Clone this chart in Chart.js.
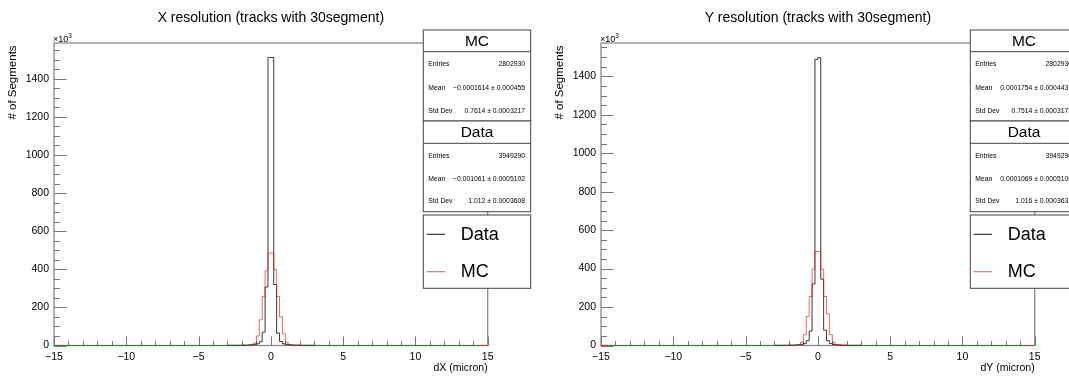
<!DOCTYPE html>
<html>
<head>
<meta charset="utf-8">
<script src="https://cdn.jsdelivr.net/npm/chart.js@4.4.1/dist/chart.umd.min.js"></script>
<style>
    html, body { margin: 0; padding: 0; background: #fff; overflow: hidden; }
    #wrap { position: relative; width: 1069px; height: 376px; }
    .pad { position: absolute; top: 0; height: 376px; }
    #padX { left: 0; width: 534px; }
    #padY { left: 547px; width: 522px; }
</style>
</head>
<body>
<div id="wrap">
    <div class="pad" id="padX"><canvas id="resX"></canvas></div>
    <div class="pad" id="padY"><canvas id="resY"></canvas></div>
</div>
<script>
// ================================================
// SEGMENT RESOLUTION HISTOGRAMS (dX / dY)
// counts are in units of 10^3
// ================================================

const BIN_WIDTH = 0.2;
const X_MIN = -15;
const X_MAX = 15;
const xTickValues = [-15, -10, -5, 0, 5, 10, 15];
const yTickValues = [0, 200, 400, 600, 800, 1000, 1200, 1400];

// dX
const dxYMax = 1588;
const dxMcStart = -1.6;
const dxMcCounts = [1, 3, 12, 50, 135, 257, 392, 485, 485, 400, 257, 150, 62, 18, 4, 1];
const dxDataStart = -3.0;
const dxDataCounts = [1, 1, 1, 1, 1, 2, 2, 3, 4, 6, 9, 20, 70, 307, 1512,
                      1512, 320, 65, 21, 9, 6, 4, 3, 2, 2, 1, 1, 1, 1, 1];
const dxStatsMC = [['Entries', '2802930'], ['Mean', '\u22120.0001614 \u00b1 0.000455'], ['Std Dev', '0.7614 \u00b1 0.0003217']];
const dxStatsData = [['Entries', '3949290'], ['Mean', '\u22120.001061 \u00b1 0.0005102'], ['Std Dev', '1.012 \u00b1 0.0003608']];

// dY
const dyYMax = 1573;
const dyMcStart = -1.6;
const dyMcCounts = [1, 4, 16, 56, 151, 255, 397, 489, 489, 397, 255, 165, 56, 16, 4, 1];
const dyDataStart = -3.0;
const dyDataCounts = [1, 1, 1, 1, 1, 2, 2, 3, 4, 6, 10, 25, 75, 320, 1488,
                      1497, 345, 80, 25, 10, 6, 4, 3, 2, 2, 1, 1, 1, 1, 1];
const dyStatsMC = [['Entries', '2802930'], ['Mean', '0.0001754 \u00b1 0.0004437'], ['Std Dev', '0.7514 \u00b1 0.0003173']];
const dyStatsData = [['Entries', '3949290'], ['Mean', '0.0001069 \u00b1 0.0005108'], ['Std Dev', '1.016 \u00b1 0.0003632']];

const FONT = 'Liberation Sans, Arial, Helvetica, sans-serif';
const BLACK_LINE = 'rgba(0, 0, 0, 0.78)';
const RED_LINE = 'rgba(255, 0, 0, 0.62)';

// Build step outline points: one point per bin low edge, closing at 0
function histPoints(start, counts, padToRange) {
    const pts = [];
    if (padToRange) pts.push({ x: X_MIN, y: 0 });
    counts.forEach((c, i) => pts.push({ x: start + i * BIN_WIDTH, y: c }));
    pts.push({ x: start + counts.length * BIN_WIDTH, y: 0 });
    if (padToRange) pts.push({ x: X_MAX, y: 0 });
    return pts;
}

// Frame, inside ticks, titles, stat boxes and legend
function makePanelPlugin(panel) {
    const BOX_L = 423.3, BOX_R = 530.7;

    function text(ctx, str, x, y, size, align, base) {
        ctx.font = size + 'px ' + FONT;
        ctx.textAlign = align || 'left';
        ctx.textBaseline = base || 'middle';
        ctx.fillStyle = '#000';
        ctx.fillText(str, x, y);
    }

    function statBox(ctx, top, titleBottom, bottom, name, rows) {
        ctx.fillStyle = '#fff';
        ctx.fillRect(BOX_L, top, BOX_R - BOX_L, bottom - top);
        ctx.strokeStyle = '#444';
        ctx.lineWidth = 1;
        ctx.strokeRect(BOX_L, top, BOX_R - BOX_L, bottom - top);
        ctx.beginPath();
        ctx.moveTo(BOX_L, titleBottom);
        ctx.lineTo(BOX_R, titleBottom);
        ctx.stroke();
        text(ctx, name, (BOX_L + BOX_R) / 2, (top + titleBottom) / 2 + 1, 15.5, 'center');
        const rowH = (bottom - titleBottom) / 3;
        rows.forEach((r, k) => {
            const yy = titleBottom + (k + 0.5) * rowH + 1.3;
            text(ctx, r[0], 428.3, yy, 6.8, 'left');
            text(ctx, r[1], 525, yy, 6.8, 'right');
        });
    }

    return {
        id: 'rootPanel',
        beforeDatasetsDraw(chart) {
            const { ctx, chartArea: a, scales: { x, y } } = chart;
            ctx.save();
            ctx.strokeStyle = '#888';
            ctx.lineWidth = 1.3;
            ctx.strokeRect(a.left, a.top, a.right - a.left, a.bottom - a.top);

            // y ticks point into the frame
            ctx.strokeStyle = '#777';
            ctx.lineWidth = 1;
            ctx.beginPath();
            for (let v = 0; v <= y.max; v += 50) {
                const py = Math.round(y.getPixelForValue(v)) + 0.5;
                const len = v % 200 === 0 ? 12.7 : 6;
                ctx.moveTo(a.left, py);
                ctx.lineTo(a.left + len, py);
            }
            // x ticks point upwards
            for (let v = X_MIN; v <= X_MAX; v += 1) {
                const px = Math.round(x.getPixelForValue(v)) + 0.5;
                const len = v % 5 === 0 ? 9 : 4.5;
                ctx.moveTo(px, a.bottom);
                ctx.lineTo(px, a.bottom - len);
            }
            ctx.stroke();
            ctx.restore();
        },
        afterDraw(chart) {
            const { ctx, chartArea: a } = chart;
            ctx.save();

            text(ctx, panel.title, (a.left + a.right) / 2, 18.5, 14, 'center');
            text(ctx, panel.xTitle, a.right, 368.5, 10.5, 'right');

            // axis multiplier
            text(ctx, '\u00d710', a.left - 1, 42, 9, 'left', 'alphabetic');
            ctx.font = '9px ' + FONT;
            const w = ctx.measureText('\u00d710').width;
            text(ctx, '3', a.left - 1 + w, 38, 6.5, 'left', 'alphabetic');

            // y title
            ctx.save();
            ctx.translate(13, 82.5);
            ctx.rotate(-Math.PI / 2);
            text(ctx, '# of Segments', 0, 0, 11.5, 'center');
            ctx.restore();

            statBox(ctx, 30, 51.7, 121, 'MC', panel.statsMC);
            statBox(ctx, 121, 143.3, 211.7, 'Data', panel.statsData);

            // legend
            ctx.fillStyle = '#fff';
            ctx.fillRect(BOX_L, 215, BOX_R - BOX_L, 73.3);
            ctx.strokeStyle = '#444';
            ctx.lineWidth = 1;
            ctx.strokeRect(BOX_L, 215, BOX_R - BOX_L, 73.3);
            ctx.lineWidth = 1.2;
            ctx.strokeStyle = BLACK_LINE;
            ctx.beginPath(); ctx.moveTo(426.7, 234.3); ctx.lineTo(445, 234.3); ctx.stroke();
            ctx.strokeStyle = RED_LINE;
            ctx.beginPath(); ctx.moveTo(426.7, 271.7); ctx.lineTo(445, 271.7); ctx.stroke();
            text(ctx, 'Data', 460.7, 235, 18, 'left');
            text(ctx, 'MC', 460.7, 272.5, 18, 'left');

            ctx.restore();
        }
    };
}

function buildPanel(canvasId, panel) {
    const ctx = document.getElementById(canvasId);
    const rightPad = ctx.parentNode.clientWidth - 487.7;

    return new Chart(ctx, {
        type: 'line',
        data: {
            datasets: [
                {
                    label: 'MC',
                    data: histPoints(panel.mcStart, panel.mcCounts, true),
                    borderColor: RED_LINE,
                    borderWidth: 1,
                    pointRadius: 0,
                    stepped: 'before',
                    fill: false,
                    clip: 3
                },
                {
                    label: 'Data',
                    data: histPoints(panel.dataStart, panel.dataCounts, false),
                    borderColor: BLACK_LINE,
                    borderWidth: 1,
                    pointRadius: 0,
                    stepped: 'before',
                    fill: false,
                    clip: 3
                }
            ]
        },
        options: {
            responsive: true,
            maintainAspectRatio: false,
            animation: false,
            events: [],
            layout: { padding: { left: 0, top: 43, right: rightPad, bottom: 0 } },
            plugins: {
                legend: { display: false },
                title: { display: false },
                tooltip: { enabled: false }
            },
            scales: {
                x: {
                    type: 'linear',
                    min: X_MIN,
                    max: X_MAX,
                    afterFit: s => { s.height = 30.5; },
                    afterBuildTicks: s => { s.ticks = xTickValues.map(v => ({ value: v })); },
                    grid: { display: false, drawTicks: false },
                    border: { display: false },
                    ticks: {
                        autoSkip: false,
                        maxRotation: 0,
                        padding: 5,
                        color: '#000',
                        font: { family: FONT, size: 10.5 },
                        callback: v => (v < 0 ? '\u2212' + Math.abs(v) : String(v))
                    }
                },
                y: {
                    type: 'linear',
                    min: 0,
                    max: panel.yMax,
                    afterFit: s => { s.width = 54; },
                    afterBuildTicks: s => { s.ticks = yTickValues.map(v => ({ value: v })); },
                    grid: { display: false, drawTicks: false },
                    border: { display: false },
                    ticks: {
                        autoSkip: false,
                        padding: 5,
                        color: '#000',
                        font: { family: FONT, size: 10.5 },
                        callback: v => String(v)
                    }
                }
            }
        },
        plugins: [makePanelPlugin(panel)]
    });
}

buildPanel('resX', {
    title: 'X resolution (tracks with 30segment)',
    xTitle: 'dX (micron)',
    yMax: dxYMax,
    mcStart: dxMcStart, mcCounts: dxMcCounts,
    dataStart: dxDataStart, dataCounts: dxDataCounts,
    statsMC: dxStatsMC, statsData: dxStatsData
});

buildPanel('resY', {
    title: 'Y resolution (tracks with 30segment)',
    xTitle: 'dY (micron)',
    yMax: dyYMax,
    mcStart: dyMcStart, mcCounts: dyMcCounts,
    dataStart: dyDataStart, dataCounts: dyDataCounts,
    statsMC: dyStatsMC, statsData: dyStatsData
});
</script>
</body>
</html>
